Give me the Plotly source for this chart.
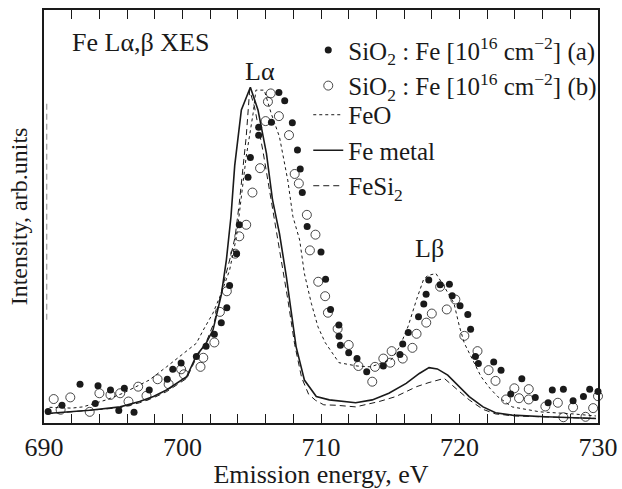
import plotly.graph_objects as go

# ---------------- data ----------------
# Fe metal (solid line)
metal_x = [690.2, 693.3, 695.5, 696.9, 697.9, 698.85, 700.3, 701.0, 701.7, 702.2, 702.8, 703.17, 703.5,
           703.77, 704.25, 704.9, 705.45, 706.06, 706.5, 707.0, 707.5, 707.97, 708.2, 708.8, 709.66, 710.6,
           712.5, 713.7, 714.9, 716.15, 717.1, 717.8, 718.4, 719.15, 719.9, 720.7, 721.7, 722.6, 723.8,
           726.2, 729.85]
metal_y = [2.3, 3.1, 3.9, 5.2, 6.4, 8.0, 11.2, 16.3, 19.3, 22.5, 31.0, 39.5, 50.0,
           62.3, 75.8, 81.3, 75.8, 65.3, 54.0, 45.9, 35.4, 24.5, 18.5, 10.4, 6.4, 5.6,
           4.9, 5.6, 7.2, 9.6, 12.0, 13.4, 13.1, 11.6, 9.2, 6.4, 3.9, 2.5, 1.9,
           1.5, 1.1]

# FeSi2 (dashed line)
fesi_x = [690.2, 693.3, 695.5, 696.9, 697.9, 698.85, 700.3, 701.0, 701.7, 702.3, 702.9, 703.5, 703.8,
          704.1, 704.6, 704.85, 705.2, 705.8, 706.4, 707.0, 707.6, 708.1, 708.6, 709.1, 709.6, 710.2,
          711.1, 712.5, 714.2, 715.4, 716.9, 717.8, 718.9, 719.75, 720.7, 721.7, 722.6, 724.0, 727.0,
          729.85]
fesi_y = [2.2, 3.0, 3.7, 4.9, 6.1, 7.6, 10.8, 15.8, 19.5, 24.5, 33.0, 40.7, 45.1,
          53.2, 69.3, 80.6, 76.5, 66.0, 54.5, 42.0, 30.0, 19.0, 11.0, 7.0, 5.5, 4.4,
          4.3, 3.9, 5.2, 6.4, 8.8, 9.8, 10.8, 8.4, 5.6, 3.3, 2.2, 1.7, 1.4,
          1.1]
# stray dashed segment near the left frame
fesi_edge_x = [690.2, 690.2]
fesi_edge_y = [25.0, 77.5]

# FeO (dotted line)
feo_x = [690.4, 692.0, 692.8, 694.5, 695.7, 696.7, 697.6, 698.85, 699.8, 701.0, 701.5, 702.2, 702.8,
         703.4, 703.9, 704.1, 704.6, 705.1, 705.3, 705.9, 706.4, 707.0, 707.6, 707.97, 708.46, 708.8,
         709.3, 709.78, 710.3, 711.3, 712.6, 713.6, 714.4, 715.1, 715.7, 716.3, 716.9, 717.4, 717.7,
         718.3, 718.9, 719.6, 720.0, 720.35, 720.95, 721.56, 722.2, 722.75, 723.8, 725.8, 728.2, 729.85]
feo_y = [3.8, 3.6, 3.9, 5.6, 7.2, 8.8, 10.4, 13.6, 16.1, 19.3, 22.5, 26.6, 31.4,
         37.0, 45.1, 50.8, 64.5, 75.0, 80.6, 80.6, 75.0, 69.3, 58.8, 50.0, 44.3, 36.2,
         29.0, 23.3, 19.5, 14.6, 13.8, 13.6, 14.6, 15.4, 18.6, 23.5, 29.9, 34.7, 35.7,
         36.2, 33.0, 29.0, 23.3, 19.3, 15.3, 11.2, 8.4, 6.4, 3.9, 2.7, 2.2, 1.7]

# SiO2:Fe (a) - filled dots
a_x = [690.3, 691.3, 692.6, 693.7, 693.9, 694.8, 695.4, 695.8, 696.5, 697.6, 698.9, 699.3, 699.9,
       701.0, 701.7, 702.3, 702.8, 703.2, 703.4, 703.9, 704.1, 704.73, 704.9, 705.5, 705.5, 706.42,
       706.96, 707.38, 707.93, 708.3, 708.5, 708.65, 709.0, 710.0, 710.33, 710.69, 711.29, 711.3,
       711.4, 712.0, 712.6, 713.3, 714.5, 715.7, 715.9, 716.3, 717.04, 717.42, 717.59, 717.78,
       718.6, 719.27, 719.47, 720.04, 720.6, 720.8, 721.15, 721.36, 722.47, 723.0, 723.7, 724.5,
       725.47, 726.4, 726.7, 727.5, 728.2, 728.95, 729.4, 730.0]
a_y = [2.8, 4.3, 9.4, 4.7, 9.0, 8.0, 3.0, 8.4, 2.6, 8.0, 10.6, 13.0, 14.5,
       16.1, 18.6, 21.5, 24.3, 27.9, 33.3, 41.0, 48.0, 59.5, 64.3, 69.7, 71.6, 72.8,
       80.0, 78.0, 72.7, 66.1, 61.5, 55.8, 47.6, 41.4, 34.8, 27.5, 23.7, 21.0,
       18.8, 17.0, 15.6, 12.4, 13.8, 16.6, 19.1, 21.9, 25.7, 28.8, 31.2, 34.6,
       33.5, 33.6, 30.8, 28.4, 26.3, 22.7, 16.1, 14.4, 14.8, 12.8, 7.0, 10.7,
       6.2, 4.9, 8.0, 8.2, 5.4, 6.4, 8.2, 7.6]

# SiO2:Fe (b) - open circles
b_x = [690.7, 691.2, 691.9, 693.3, 694.0, 694.8, 695.5, 696.1, 696.8, 697.4, 698.2, 699.0, 699.9,
       700.1, 701.3, 701.5, 702.3, 702.7, 703.2, 703.8, 704.1, 704.6, 705.05, 705.6, 706.0, 706.17,
       706.37, 706.96, 707.69, 708.1, 708.4, 708.98, 709.6, 709.2, 709.8, 710.3, 710.5, 711.2,
       712.0, 712.7, 713.7, 713.9, 714.5, 715.1, 715.0, 715.9, 716.6, 716.9, 717.6, 718.0, 718.6,
       719.08, 719.7, 720.35, 721.3, 722.1, 722.6, 723.36, 723.96, 724.3, 725.0, 725.0, 726.2,
       727.1, 727.5, 728.2, 729.1, 729.65, 730.0]
b_y = [5.8, 3.2, 6.2, 2.7, 7.2, 6.8, 7.2, 5.2, 8.8, 6.6, 10.6, 9.4, 13.0,
       11.8, 13.6, 15.8, 19.5, 26.9, 31.9, 41.0, 45.2, 48.0, 55.8, 61.7, 73.1, 77.8,
       79.8, 74.3, 69.7, 60.3, 58.0, 50.4, 45.6, 41.8, 34.2, 30.7, 26.7, 22.8,
       18.9, 13.8, 10.0, 13.6, 15.6, 17.4, 14.6, 15.6, 18.2, 21.6, 24.3, 26.5, 33.0,
       27.5, 29.9, 21.1, 17.4, 12.8, 10.2, 5.7, 8.4, 6.0, 8.2, 5.7, 4.0,
       4.9, 1.4, 3.8, 1.5, 3.6, 6.5]

x_major = [690, 700, 710, 720, 730]
x_ticks = list(range(690, 731, 2))

FONT = "Liberation Serif"
INK = "#1a1a1a"

fig = go.Figure()
fig.add_trace(go.Scatter(x=a_x, y=a_y, mode="markers", cliponaxis=False, legend="legend",
                         name="SiO<sub>2</sub> : Fe [10<sup>16</sup> cm<sup>−2</sup>] (a)",
                         marker=dict(symbol="circle", size=7, color=INK)))
fig.add_trace(go.Scatter(x=b_x, y=b_y, mode="markers", cliponaxis=False, legend="legend",
                         name="SiO<sub>2</sub> : Fe [10<sup>16</sup> cm<sup>−2</sup>] (b)",
                         marker=dict(symbol="circle-open", size=9, color=INK, line=dict(width=0.8))))
fig.add_trace(go.Scatter(x=feo_x, y=feo_y, mode="lines", name="FeO", legend="legend2",
                         line=dict(color=INK, width=1, dash="dot")))
fig.add_trace(go.Scatter(x=metal_x, y=metal_y, mode="lines", name="Fe metal", legend="legend2",
                         line=dict(color=INK, width=1.6)))
fig.add_trace(go.Scatter(x=fesi_x, y=fesi_y, mode="lines", name="FeSi<sub>2</sub>", legend="legend2",
                         line=dict(color=INK, width=1, dash="6px,4px")))
fig.add_trace(go.Scatter(x=fesi_edge_x, y=fesi_edge_y, mode="lines", showlegend=False,
                         line=dict(color="#888888", width=1, dash="6px,4px")))

fig.update_layout(
    width=622, height=489,
    margin=dict(l=44, r=24, t=10, b=66, autoexpand=False),
    paper_bgcolor="white", plot_bgcolor="white",
    font=dict(family=FONT, size=25, color=INK),
    showlegend=True,
    legend=dict(x=0.477, y=0.958, xanchor="left", yanchor="top",
                bgcolor="rgba(0,0,0,0)", font=dict(family=FONT, size=25, color=INK),
                itemwidth=30, tracegroupgap=0),
    legend2=dict(x=0.477, y=0.8015, xanchor="left", yanchor="top",
                 bgcolor="rgba(0,0,0,0)", font=dict(family=FONT, size=25, color=INK),
                 itemwidth=30, tracegroupgap=0),
    xaxis=dict(range=[690, 730], tickmode="array", tickvals=x_ticks,
               ticktext=[str(v) if v in x_major else "" for v in x_ticks],
               ticks="inside", ticklen=9, tickwidth=1.3, tickcolor=INK,
               showline=True, linewidth=2, linecolor=INK, mirror="allticks",
               showgrid=False, zeroline=False, automargin=False,
               tickfont=dict(family=FONT, size=26, color=INK),
               title=dict(text="Emission energy, eV", font=dict(family=FONT, size=26, color=INK),
                          standoff=2)),
    yaxis=dict(range=[0, 100], showticklabels=False, ticks="",
               showline=True, linewidth=2, linecolor=INK, mirror=True,
               showgrid=False, zeroline=False, automargin=False,
               title=dict(text="Intensity, arb.units", font=dict(family=FONT, size=24, color=INK),
                          standoff=8)),
    annotations=[
        dict(text="Fe Lα,β XES", xref="paper", yref="paper", x=0.047, y=0.922,
             xanchor="left", yanchor="middle", showarrow=False,
             font=dict(family=FONT, size=26, color=INK)),
        dict(text="Lα", x=705.6, y=85, xref="x", yref="y", showarrow=False,
             font=dict(family=FONT, size=26, color=INK)),
        dict(text="Lβ", x=717.8, y=42.3, xref="x", yref="y", showarrow=False,
             font=dict(family=FONT, size=26, color=INK)),
    ],
)

fig.write_html("out.html", config={"displayModeBar": False},
               post_script="document.body.style.margin='0px';document.body.style.overflow='hidden';")
